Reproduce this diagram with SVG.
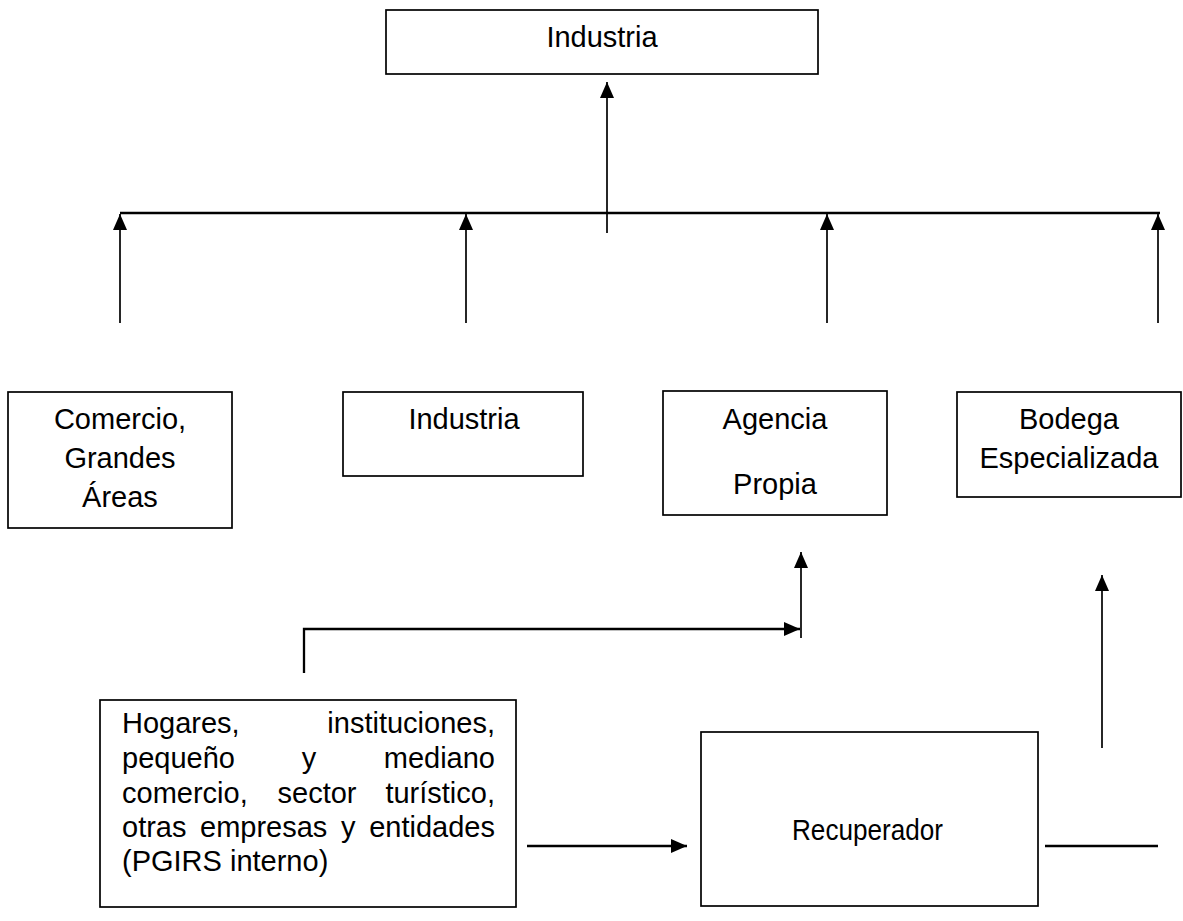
<svg xmlns="http://www.w3.org/2000/svg" width="1183" height="921" viewBox="0 0 1183 921">
<style>
  .box { fill: #ffffff; stroke: #000000; stroke-width: 1.7; }
  .t { font-family: "Liberation Sans", Arial, sans-serif; font-size: 29px; fill: #000000; }
  .c { text-anchor: middle; }
  .r { text-anchor: end; }
  .ln { fill: none; stroke: #000000; stroke-width: 1.7; }
  .thk { fill: none; stroke: #000000; stroke-width: 2.3; }
</style>
<defs>
  <marker id="ah" markerUnits="userSpaceOnUse" markerWidth="16" markerHeight="14" refX="16" refY="7" orient="auto">
    <path d="M0,0 L16,7 L0,14 z" fill="#000000"/>
  </marker>
</defs>
<rect width="1183" height="921" fill="#ffffff"/>

<g id="connectors">
  <line class="ln" x1="607" y1="233" x2="607" y2="82" marker-end="url(#ah)"/>
  <line class="thk" x1="120" y1="213" x2="1160" y2="213"/>
  <line class="ln" x1="120" y1="323" x2="120" y2="214" marker-end="url(#ah)"/>
  <line class="ln" x1="466" y1="323" x2="466" y2="214" marker-end="url(#ah)"/>
  <line class="ln" x1="827" y1="323" x2="827" y2="214" marker-end="url(#ah)"/>
  <line class="ln" x1="1158" y1="323" x2="1158" y2="214" marker-end="url(#ah)"/>
  <line class="ln" x1="801" y1="638" x2="801" y2="552" marker-end="url(#ah)"/>
  <polyline class="thk" points="304,673 304,629 800,629" marker-end="url(#ah)"/>
  <line class="ln" x1="1102" y1="748" x2="1102" y2="575" marker-end="url(#ah)"/>
  <line class="thk" x1="527" y1="846" x2="687" y2="846" marker-end="url(#ah)"/>
  <line class="thk" x1="1045" y1="846" x2="1158" y2="846"/>
</g>

<g id="industria-top">
  <rect class="box" x="386" y="10" width="432" height="64"/>
  <text class="t c" x="602" y="47">Industria</text>
</g>

<g id="comercio">
  <rect class="box" x="8" y="392" width="224" height="136"/>
  <text class="t c" x="120" y="429">Comercio,</text>
  <text class="t c" x="120" y="468">Grandes</text>
  <text class="t c" x="120" y="507">Áreas</text>
</g>

<g id="industria">
  <rect class="box" x="343" y="392" width="240" height="84"/>
  <text class="t c" x="464" y="429">Industria</text>
</g>

<g id="agencia">
  <rect class="box" x="663" y="391" width="224" height="124"/>
  <text class="t c" x="775" y="429">Agencia</text>
  <text class="t c" x="775" y="494">Propia</text>
</g>

<g id="bodega">
  <rect class="box" x="957" y="392" width="224" height="105"/>
  <text class="t c" x="1069" y="429">Bodega</text>
  <text class="t c" x="1069" y="468">Especializada</text>
</g>

<g id="hogares">
  <rect class="box" x="100" y="700" width="416" height="207"/>
  <text class="t" x="122" y="733">Hogares,</text>
  <text class="t r" x="495" y="733">instituciones,</text>
  <text class="t" x="122" y="768">pequeño</text>
  <text class="t c" x="309" y="768">y</text>
  <text class="t r" x="495" y="768">mediano</text>
  <text class="t" x="122" y="803">comercio,</text>
  <text class="t c" x="317" y="803">sector</text>
  <text class="t r" x="495" y="803">turístico,</text>
  <text class="t" x="122" y="837">otras</text>
  <text class="t" x="200" y="837">empresas</text>
  <text class="t" x="341" y="837">y</text>
  <text class="t r" x="495" y="837">entidades</text>
  <text class="t" x="122" y="871">(PGIRS interno)</text>
</g>

<g id="recuperador">
  <rect class="box" x="701" y="732" width="337" height="174"/>
  <text class="t" x="792" y="840" font-size="28" textLength="151" lengthAdjust="spacingAndGlyphs">Recuperador</text>
</g>
</svg>
